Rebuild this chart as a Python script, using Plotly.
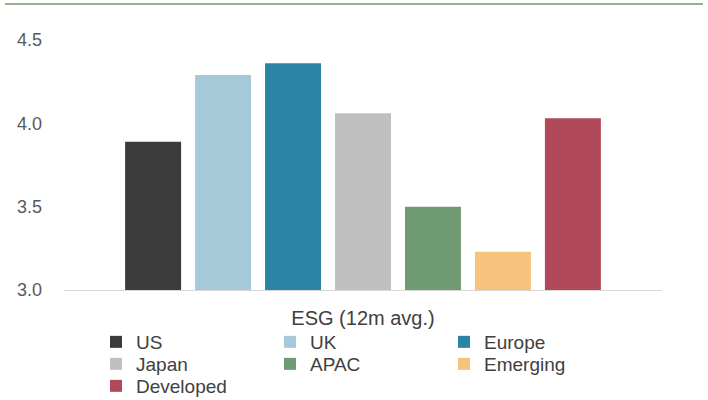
import plotly.graph_objects as go

category = ["ESG (12m avg.)"]
series_names = ["US", "UK", "Europe", "Japan", "APAC", "Emerging", "Developed"]
series_values = [3.89, 4.29, 4.36, 4.06, 3.50, 3.23, 4.03]
series_colors = ["#3b3b3b", "#a6c9d9", "#2b84a3", "#bfbfbf", "#6f9a72", "#f7c27b", "#b04a5a"]
legend_rows = ["legend", "legend", "legend", "legend2", "legend2", "legend2", "legend3"]
y_ticks = [3.0, 3.5, 4.0, 4.5]
y_tick_labels = ["3.0", "3.5", "4.0", "4.5"]

FONT = "Liberation Sans, Arial, sans-serif"

fig = go.Figure()
for name, val, col, lg in zip(series_names, series_values, series_colors, legend_rows):
    fig.add_trace(go.Bar(x=category, y=[val], name=name, marker_color=col,
                         marker_line_width=0, legend=lg))

def legend_cfg(yc):
    return dict(orientation="h", xref="container", yref="container",
                x=96 / 708, xanchor="left", y=yc, yanchor="middle",
                entrywidth=129, entrywidthmode="pixels", itemwidth=30,
                font=dict(family=FONT, size=19, color="#404040"),
                traceorder="normal", bgcolor="rgba(0,0,0,0)", borderwidth=0)

fig.update_layout(
    width=708, height=400,
    margin=dict(l=64, r=46, t=40, b=110, autoexpand=False),
    paper_bgcolor="white", plot_bgcolor="white",
    barmode="group", bargap=0.181, bargroupgap=0.2,
    font=dict(family=FONT, color="#595959", size=16),
    showlegend=True,
    legend=legend_cfg(1 - 342 / 400),
    legend2=legend_cfg(1 - 364 / 400),
    legend3=legend_cfg(1 - 386 / 400),
    xaxis=dict(showline=True, linecolor="#d9d9d9", linewidth=1, ticks="",
               tickfont=dict(size=20, color="#404040"), ticklabelstandoff=10),
    yaxis=dict(range=[3.0, 4.5], tickvals=y_ticks, ticktext=y_tick_labels,
               showgrid=False, zeroline=False, showline=False, ticks="",
               tickfont=dict(size=18, color="#595959"), ticklabelstandoff=21),
    shapes=[dict(type="line", xref="paper", yref="paper",
                 x0=(5 - 64) / 598, x1=(703 - 64) / 598,
                 y0=(290 - 4) / 250, y1=(290 - 4) / 250,
                 line=dict(color="#94b08f", width=2))],
)

fig.write_html("out.html", config={"displayModeBar": False},
               post_script="document.body.style.margin='0';window.dispatchEvent(new Event('resize'));")
